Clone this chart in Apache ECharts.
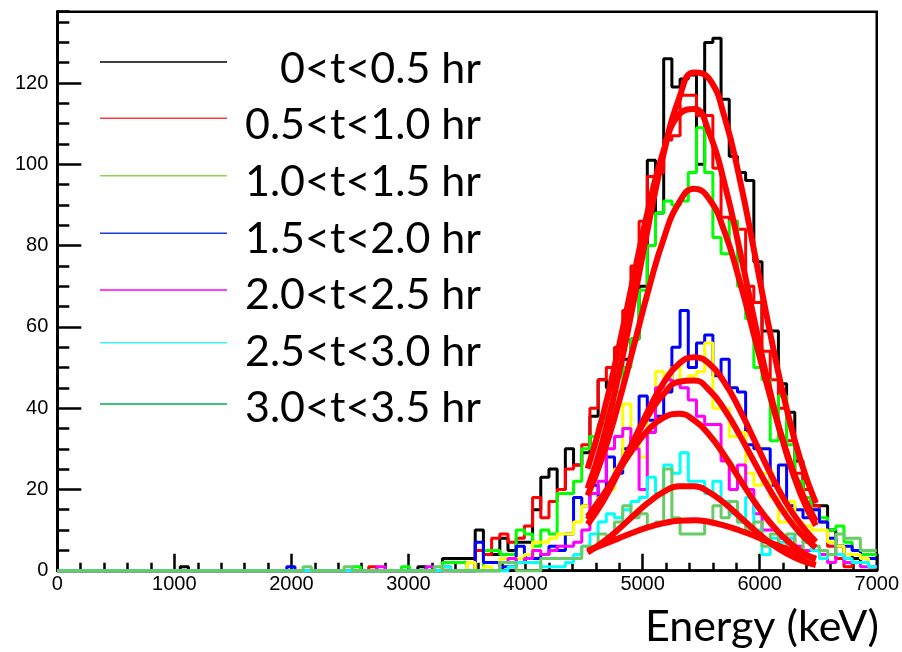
<!DOCTYPE html>
<html>
<head>
<meta charset="utf-8">
<script src="https://cdn.jsdelivr.net/npm/echarts@6/dist/echarts.min.js"></script>
<style>
  html, body { margin: 0; padding: 0; background: #ffffff; }
  #chart { width: 902px; height: 652px; }
</style>
</head>
<body>
<div id="chart"></div>
<script>
// Energy spectra in half-hour time slices: 100 bins of 70 keV from 0 to 7000 keV
const binWidth = 70;
const xMin = 0, xMax = 7000;
const yMax = 137.55;

const countsT0 = [
  0,0,0,0,0,0,0,0,0,0,
  0,0,0,0,0,1,0,0,0,0,
  0,0,0,0,0,0,0,0,0,0,
  0,0,0,0,0,0,0,0,0,0,
  0,0,0,0,1,0,0,3,3,3,
  3,10,5,4,8,5,7,7,15,23,
  25,20,30,26,29,38,47,45,50,52,
  57,70,101,88,126,119,121,122,100,130,
  131,116,102,98,96,76,59,59,46,39,
  27,18,16,16,10,6,4,3,2,1
];
const countsT1 = [
  0,0,0,0,0,0,0,0,0,0,
  0,0,0,0,0,0,0,0,0,0,
  0,0,0,0,0,0,0,0,0,0,
  0,0,0,0,0,0,0,0,1,0,
  0,0,0,0,0,0,0,1,0,0,
  0,5,4,8,9,7,8,11,18,13,
  17,20,25,26,31,40,47,50,55,64,
  75,86,97,98,106,107,117,117,112,112,
  99,87,86,84,70,66,54,47,40,32,
  24,20,16,12,6,3,1,2,2,1
];
const countsT2 = [
  0,0,0,0,0,0,0,0,0,0,
  0,0,0,0,0,0,0,0,0,0,
  0,0,0,0,0,0,0,0,0,0,
  0,0,0,0,0,0,1,0,0,0,
  0,0,1,0,0,0,0,2,2,2,
  0,0,5,5,4,4,10,9,6,10,
  9,19,19,22,30,33,36,40,44,50,
  57,69,80,88,91,90,91,98,109,98,
  82,78,86,70,62,50,47,32,43,31,
  22,18,15,13,10,11,7,5,4,4
];
const countsT3 = [
  0,0,0,0,0,0,0,0,0,0,
  0,0,0,0,0,0,0,0,0,0,
  0,0,0,0,0,0,0,0,1,0,
  0,0,0,0,0,0,0,0,0,0,
  0,0,0,0,0,0,0,0,0,0,
  0,7,2,2,1,1,6,4,3,4,
  6,5,9,18,16,21,18,28,24,30,
  33,43,37,38,44,55,64,50,56,58,
  48,52,45,44,31,30,30,21,26,16,
  15,13,15,12,8,6,6,5,3,3
];
const countsYellow = [
  0,0,0,0,0,0,0,0,0,0,
  0,0,0,0,0,0,0,0,0,0,
  0,0,0,0,0,0,0,0,0,0,
  0,0,0,0,0,0,0,0,0,0,
  0,0,0,0,0,0,0,0,0,0,
  2,0,1,0,3,3,3,4,7,7,
  8,9,9,12,16,16,18,20,25,41,
  33,28,40,49,47,50,47,48,49,56,
  40,40,33,34,24,21,24,18,12,17,
  12,11,10,10,7,6,4,4,3,1
];
const countsT4 = [
  0,0,0,0,0,0,0,0,0,0,
  0,0,0,0,0,0,0,0,0,0,
  0,0,0,0,0,0,0,0,0,0,
  0,0,0,0,0,0,0,0,0,1,
  0,0,0,0,0,1,0,0,0,0,
  0,0,0,0,2,3,2,3,5,4,
  5,6,6,7,10,19,22,30,33,35,
  30,20,34,45,47,46,45,42,38,36,
  36,27,20,26,20,14,10,10,8,8,
  6,5,5,4,2,4,2,2,1,1
];
const countsT5 = [
  0,0,0,0,0,0,0,0,0,0,
  0,0,0,0,0,0,0,0,0,0,
  0,0,0,0,0,0,0,0,0,0,
  0,0,0,0,0,0,0,0,0,0,
  0,0,0,0,0,0,0,1,0,0,
  0,0,0,0,0,1,2,2,2,1,
  1,1,2,4,6,9,12,14,13,15,
  17,18,23,19,26,24,29,22,22,19,
  22,17,14,12,18,10,4,8,7,8,
  9,7,5,3,4,4,3,2,2,1
];
const countsT6 = [
  0,0,0,0,0,0,0,0,0,0,
  0,0,0,0,0,0,0,0,0,0,
  0,0,0,0,0,0,0,0,0,0,
  1,0,0,0,0,1,0,0,0,0,
  0,0,0,0,0,0,1,0,0,0,
  0,0,0,0,2,2,0,0,0,3,
  3,3,3,3,6,6,9,8,12,16,
  13,14,11,12,25,13,9,9,9,12,
  16,13,17,12,10,12,6,9,6,9,
  3,9,6,5,4,9,8,8,5,5
];

// Gaussian fit curves, sampled over the fit window
const fitEnergy = [4530, 4660, 4790, 4920, 5050, 5180, 5310, 5440, 5570, 5700, 5830, 5960, 6090, 6220, 6350, 6480];
const fitT0 = [20.2, 32.1, 47.5, 65.7, 85.0, 102.7, 116.1, 122.6, 121.0, 111.6, 96.3, 77.6, 58.4, 41.1, 27.1, 16.6];
const fitT1 = [25.1, 38.1, 54.2, 71.9, 89.2, 103.5, 112.2, 113.6, 107.6, 95.2, 78.8, 60.9, 44.0, 29.7, 18.8, 11.1];
const fitT2 = [18.5, 28.3, 40.7, 54.8, 69.1, 81.7, 90.5, 94.0, 91.4, 83.4, 71.2, 57.0, 42.8, 30.1, 19.8, 12.2];
const fitT3 = [11.4, 17.0, 24.0, 31.8, 39.6, 46.3, 50.9, 52.5, 50.9, 46.3, 39.6, 31.8, 24.0, 17.0, 11.4, 7.1];
const fitYellow = [12.6, 18.2, 24.8, 31.7, 38.3, 43.5, 46.5, 46.8, 44.4, 39.6, 33.3, 26.4, 19.7, 13.8, 9.1, 5.7];
const fitT4 = [13.3, 18.5, 24.3, 30.0, 34.7, 37.7, 38.6, 37.0, 33.4, 28.3, 22.5, 16.8, 11.8, 7.8, 4.8, 2.8];
const fitT5 = [4.5, 7.0, 10.1, 13.5, 16.8, 19.4, 20.8, 20.8, 19.3, 16.6, 13.3, 9.9, 6.8, 4.4, 2.6, 1.4];
const fitT6 = [4.9, 6.4, 7.9, 9.4, 10.7, 11.7, 12.3, 12.4, 12.0, 11.1, 9.9, 8.5, 6.9, 5.5, 4.1, 3.0];

const legendLabels = ['0<t<0.5 hr', '0.5<t<1.0 hr', '1.0<t<1.5 hr', '1.5<t<2.0 hr', '2.0<t<2.5 hr', '2.5<t<3.0 hr', '3.0<t<3.5 hr'];
const legendColors = ['#000000', '#ff3b3b', '#92d050', '#1c3bd6', '#ff00ff', '#3cf2f2', '#00b050'];

const histograms = [
  { counts: countsT0, color: '#000000' },
  { counts: countsT1, color: '#ff0000' },
  { counts: countsT2, color: '#00ff00' },
  { counts: countsT3, color: '#0000ff' },
  { counts: countsYellow, color: '#ffff00' },
  { counts: countsT4, color: '#ff00ff' },
  { counts: countsT5, color: '#00ffff' },
  { counts: countsT6, color: '#66cc66' }
];
const fits = [fitT0, fitT1, fitT2, fitT3, fitYellow, fitT4, fitT5, fitT6];

// step outline: one point per bin's low edge, plus the upper edge of the last bin
function histPoints(counts) {
  const pts = counts.map((c, i) => [xMin + i * binWidth, c]);
  pts.push([xMin + counts.length * binWidth, counts[counts.length - 1]]);
  return pts;
}

const series = [];
histograms.forEach(h => {
  series.push({
    type: 'line',
    step: 'end',
    data: histPoints(h.counts),
    showSymbol: false,
    clip: false,
    silent: true,
    z: 2,
    lineStyle: { color: h.color, width: 3 }
  });
});
fits.forEach(f => {
  series.push({
    type: 'line',
    smooth: 0.5,
    data: fitEnergy.map((e, i) => [e, f[i]]),
    showSymbol: false,
    clip: false,
    silent: true,
    z: 3,
    lineStyle: { color: '#ff0000', width: 6 }
  });
});

const LEFT = 57.3, TOP = 11.7, RIGHT = 22.9, BOTTOM = 81.3;

// legend drawn as line samples with right-aligned labels
const legendLineY = [62, 118.3, 175.7, 233.3, 290, 342.7, 404];
const legendTextY = [69, 125.6, 182.2, 238.8, 295.4, 352, 408.6];
const graphics = [];
legendLabels.forEach((label, i) => {
  graphics.push({
    type: 'line',
    shape: { x1: 100, y1: legendLineY[i], x2: 227, y2: legendLineY[i] },
    style: { stroke: legendColors[i], lineWidth: 1.6 },
    z: 10
  });
  graphics.push({
    type: 'text',
    style: {
      text: label, x: 481, y: legendTextY[i],
      fill: '#000000',
      font: '43px Lato',
      textAlign: 'right', align: 'right',
      textVerticalAlign: 'middle', verticalAlign: 'middle'
    },
    z: 10
  });
});
graphics.push({
  type: 'text',
  style: {
    text: 'Energy (keV)', x: 879, y: 627,
    fill: '#000000',
    font: '43px Lato',
    textAlign: 'right', align: 'right',
    textVerticalAlign: 'middle', verticalAlign: 'middle'
  },
  z: 10
});

const chart = echarts.init(document.getElementById('chart'), null, { renderer: 'canvas' });
chart.setOption({
  animation: false,
  backgroundColor: '#ffffff',
  grid: {
    left: LEFT, top: TOP, right: RIGHT, bottom: BOTTOM,
    show: true, borderColor: '#000000', borderWidth: 2.5, backgroundColor: 'transparent'
  },
  xAxis: {
    type: 'value', min: xMin, max: xMax, interval: 1000,
    axisLine: { show: true, lineStyle: { color: '#000000', width: 2.5 } },
    axisTick: { show: true, inside: true, length: 17, lineStyle: { color: '#000000', width: 2.5 } },
    minorTick: { show: true, splitNumber: 5, length: 8, lineStyle: { color: '#000000', width: 2.5 } },
    axisLabel: {
      color: '#000000', fontFamily: 'Liberation Sans', fontSize: 20, margin: 4,
      formatter: v => String(v)
    },
    splitLine: { show: false },
    minorSplitLine: { show: false }
  },
  yAxis: [
    {
      type: 'value', min: 0, max: yMax, interval: 20, position: 'left',
      axisLine: { show: true, lineStyle: { color: '#000000', width: 3 } },
      axisTick: { show: true, inside: true, length: 24, lineStyle: { color: '#000000', width: 2.5 } },
      axisLabel: {
        color: '#000000', fontFamily: 'Liberation Sans', fontSize: 20, margin: 9,
        showMaxLabel: false,
        formatter: v => (v % 20 === 0 ? String(v) : '')
      },
      splitLine: { show: false }
    },
    {
      type: 'value', min: 0, max: yMax, interval: 5, position: 'left', offset: 0,
      axisLine: { show: false },
      axisTick: { show: true, inside: true, length: 12, lineStyle: { color: '#000000', width: 2.5 } },
      axisLabel: { show: false },
      splitLine: { show: false }
    }
  ],
  series: series,
  graphic: { elements: graphics }
});
</script>
</body>
</html>
